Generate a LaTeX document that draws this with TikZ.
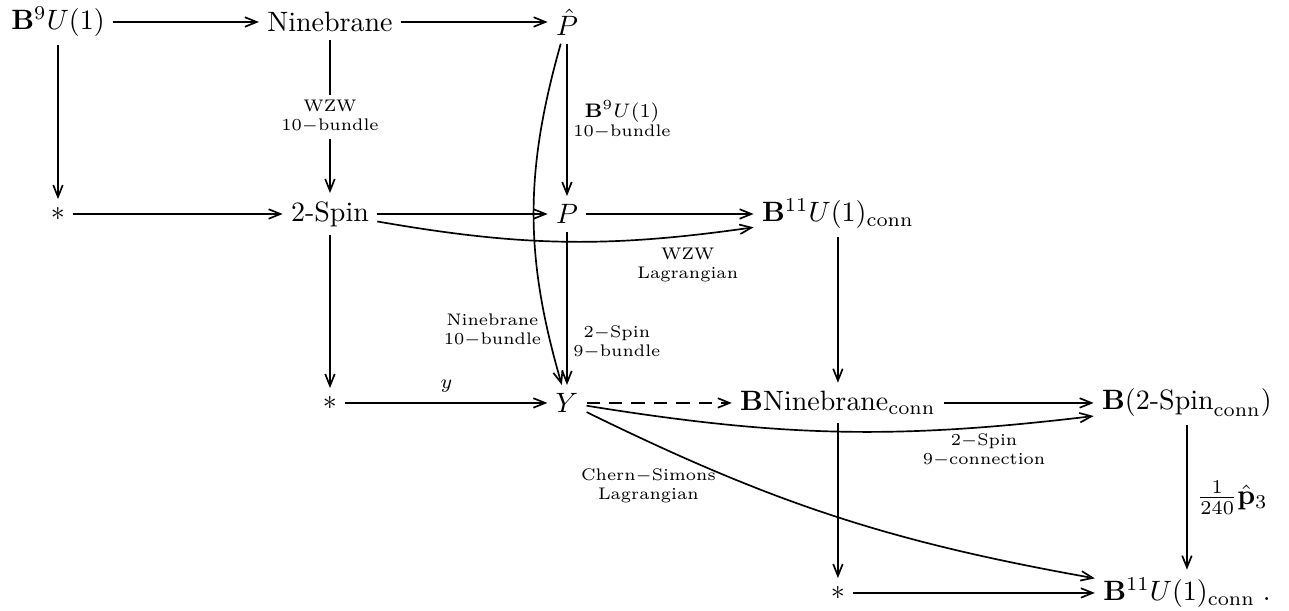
\documentclass[tikz,border=0pt]{standalone}
\usepackage{amsmath, amssymb}
\usepackage{tikz}
\usetikzlibrary{arrows.meta, positioning}

\begin{document}
\begin{tikzpicture}[
    on grid,
    obj/.style={inner sep=2.8pt},
    lbl/.style={font=\fontsize{6}{6.8}\selectfont, align=center, inner sep=2pt},
    arrow/.style={-{Straight Barb[length=4.2pt,width=3.4pt]}, line width=0.6pt},
    dasharrow/.style={arrow, dash pattern=on 4.8pt off 3.2pt}]

    % Bounding box
    \useasboundingbox (0,0) rectangle (16.18,-7.669);

    % Nodes
    \node[obj] (b9u) at (0.728,-0.276) {$\mathbf{B}^9U(1)$};
    \node[obj, right=3.414cm of b9u] (nine) {Ninebrane};
    \node[obj, right=2.975cm of nine] (phat) {$\hat P$};

    \node[obj, below=2.41cm of b9u] (pt) {$*$};
    \node[obj, below=2.41cm of nine] (spin) {2-Spin};
    \node[obj, below=2.41cm of phat] (p) {$P$};
    \node[obj, right=3.401cm of p] (b11) {$\mathbf{B}^{11}U(1)_{\mathrm{conn}}$};

    \node[obj, below=2.372cm of spin] (pty) {$*$};
    \node[obj, below=2.372cm of p] (y) {$Y$};
    \node[obj, below=2.372cm of b11] (bnine) {$\mathbf{B}\mathrm{Ninebrane}_{\mathrm{conn}}$};
    \node[obj, right=4.381cm of bnine] (bspin) {$\mathbf{B}(\text{2-Spin}_{\mathrm{conn}})$};

    \node[obj, below=2.385cm of bnine] (ptb) {$*$};
    \node[obj, below=2.385cm of bspin] (b11b) {$\mathbf{B}^{11}U(1)_{\mathrm{conn}}\;.$};

    % Top row and first column
    \draw[arrow] (b9u) -- (nine);
    \draw[arrow] (nine) -- (phat);
    \draw[arrow] (b9u) -- (pt);
    \draw[arrow] (nine) -- node[lbl, fill=white] {WZW\\10$-$bundle} (spin);
    \draw[arrow] (phat) -- node[lbl, right] {{\scriptsize$\mathbf{B}^9U(1)$}\\10$-$bundle} (p);
    \draw[arrow] (phat) to[bend right=16] node[lbl, left, pos=0.85] {Ninebrane\\10$-$bundle} (y);

    % Second row
    \draw[arrow] (pt) -- (spin);
    \draw[arrow] (spin) -- (p);
    \draw[arrow] (p) -- (b11);
    \draw[arrow] (spin) to[bend right=9] node[lbl, below, pos=0.84, yshift=-2pt] {WZW\\Lagrangian} (b11);
    \draw[arrow] (spin) -- (pty);
    \draw[arrow] (p) -- node[lbl, right, pos=0.72] {2$-$Spin\\9$-$bundle} (y);
    \draw[arrow] (b11) -- (bnine);

    % Third row
    \draw[arrow] (pty) -- node[above] {\scriptsize$y$} (y);
    \draw[dasharrow] (y) -- (bnine);
    \draw[arrow] (bnine) -- (bspin);
    \draw[arrow] (y) to[bend right=8] node[lbl, below, pos=0.8] {2$-$Spin\\9$-$connection} (bspin);
    \draw[arrow] (y) to[bend right=8] node[lbl, below, pos=0.22, xshift=-19pt, yshift=1pt] {Chern$-$Simons\\Lagrangian} (b11b);
    \draw[arrow] (bnine) -- (ptb);
    \draw[arrow] (bspin) -- node[right] {$\frac{1}{240}\hat{\mathbf{p}}_3$} (b11b);

    % Bottom row
    \draw[arrow] (ptb) -- (b11b);

\end{tikzpicture}
\end{document}
